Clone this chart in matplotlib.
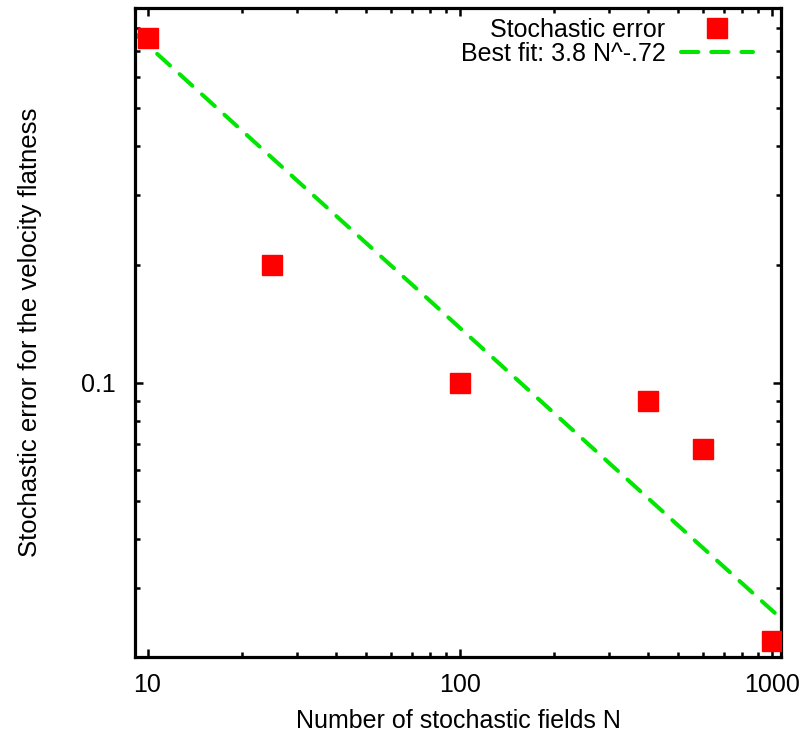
import matplotlib
matplotlib.use("Agg")
import matplotlib.pyplot as plt
import numpy as np
from matplotlib.ticker import LogLocator, NullFormatter, FixedLocator, FixedFormatter

plt.rcParams["font.family"] = ["Liberation Sans", "DejaVu Sans"]

# data
n_fields = [10, 25, 100, 400, 600, 1000]
stoch_err = [0.755, 0.2, 0.1, 0.09, 0.068, 0.022]

# best fit coefficients from the legend
fit_a = 3.8
fit_b = -0.72
x_range = (9.1, 1068)
y_range = (0.02, 0.9)

fig = plt.figure(figsize=(8.07, 7.36), dpi=100)
ax = fig.add_axes([0.167, 0.107, 0.801, 0.882])

ax.plot(n_fields, stoch_err, linestyle="none", marker="s", markersize=14.5,
        color="#ff0000", label="Stochastic error", zorder=3)
xf = np.array(x_range)
ax.plot(xf, fit_a * xf ** fit_b, color="#00e600", linestyle=(0, (4.3, 3.2)),
        linewidth=2.9, dash_capstyle="round", label="Best fit: 3.8 N^-.72",
        zorder=2)

ax.set_xscale("log")
ax.set_yscale("log")
ax.set_xlim(*x_range)
ax.set_ylim(*y_range)

ax.xaxis.set_major_locator(FixedLocator([10, 100, 1000]))
ax.xaxis.set_major_formatter(FixedFormatter(["10", "100", "1000"]))
ax.xaxis.set_minor_locator(LogLocator(base=10, subs=np.arange(2, 10)))
ax.xaxis.set_minor_formatter(NullFormatter())
ax.yaxis.set_major_locator(FixedLocator([0.1]))
ax.yaxis.set_major_formatter(FixedFormatter(["0.1"]))
ax.yaxis.set_minor_locator(LogLocator(base=10, subs=np.arange(2, 10)))
ax.yaxis.set_minor_formatter(NullFormatter())

ax.tick_params(which="both", direction="in", top=True, right=True,
               labelsize=18, width=1.8)
ax.tick_params(which="major", length=6)
ax.tick_params(which="minor", length=3.5)
ax.tick_params(axis="x", which="major", pad=11)
ax.tick_params(axis="y", which="major", pad=14)
for s in ax.spines.values():
    s.set_linewidth(2.3)

ax.set_xlabel("Number of stochastic fields N", fontsize=18, labelpad=9)
ax.set_ylabel("Stochastic error for the velocity flatness", fontsize=18.5,
              labelpad=28)

ax.legend(loc="upper right", bbox_to_anchor=(0.972, 1.0), frameon=False,
          markerfirst=False, fontsize=18, handlelength=2.9,
          borderaxespad=0.0, labelspacing=0.0, handletextpad=0.6,
          markerscale=1.0)

fig.savefig("out.png", dpi=100)
